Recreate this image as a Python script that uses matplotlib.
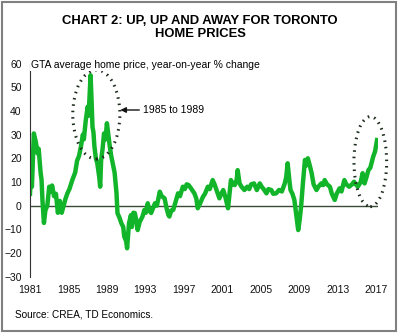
"""GTA home price growth chart."""
import matplotlib
matplotlib.use("Agg")
import matplotlib.pyplot as plt
from matplotlib.patches import Ellipse, Rectangle

# year-on-year % change in GTA average home price
years = [
    1981.0, 1981.1, 1981.2, 1981.4, 1981.6, 1981.8, 1981.9, 1982.1, 1982.2, 1982.3,
    1982.45, 1982.6, 1982.8, 1983.0, 1983.15, 1983.3, 1983.5, 1983.7, 1983.9, 1984.1,
    1984.3, 1984.5, 1984.7, 1984.9, 1985.1, 1985.4, 1985.7, 1985.9, 1986.1, 1986.3,
    1986.5, 1986.6, 1986.8, 1987.0, 1987.1, 1987.3, 1987.4, 1987.5, 1987.6, 1987.7,
    1987.85, 1988.0, 1988.2, 1988.3, 1988.4, 1988.55, 1988.7, 1988.85, 1989.0, 1989.15,
    1989.3, 1989.45, 1989.6, 1989.8, 1990.0, 1990.1, 1990.3, 1990.5, 1990.7, 1990.8,
    1991.0, 1991.1, 1991.3, 1991.5, 1991.6, 1991.75, 1991.9, 1992.05, 1992.2, 1992.4,
    1992.7, 1992.9, 1993.05, 1993.25, 1993.4, 1993.6, 1993.8, 1994.0, 1994.2, 1994.5,
    1994.7, 1995.0, 1995.2, 1995.4, 1995.5, 1995.7, 1995.9, 1996.1, 1996.4, 1996.6,
    1996.9, 1997.1, 1997.3, 1997.5, 1997.8, 1998.1, 1998.3, 1998.45, 1998.7, 1999.0,
    1999.2, 1999.5, 1999.7, 2000.0, 2000.2, 2000.4, 2000.7, 2000.9, 2001.1, 2001.3,
    2001.6, 2001.9, 2002.1, 2002.3, 2002.5, 2002.6, 2002.8, 2003.0, 2003.3, 2003.6,
    2003.8, 2004.0, 2004.3, 2004.6, 2004.9, 2005.1, 2005.3, 2005.6, 2005.8, 2006.1,
    2006.3, 2006.6, 2006.9, 2007.2, 2007.5, 2007.65, 2007.8, 2008.0, 2008.1, 2008.3,
    2008.5, 2008.7, 2008.9, 2009.05, 2009.2, 2009.4, 2009.6, 2009.75, 2009.9, 2010.1,
    2010.3, 2010.5, 2010.8, 2011.0, 2011.3, 2011.5, 2011.65, 2011.9, 2012.2, 2012.4,
    2012.7, 2012.9, 2013.2, 2013.4, 2013.7, 2013.9, 2014.2, 2014.5, 2014.7, 2014.9,
    2015.1, 2015.4, 2015.6, 2015.8, 2016.0, 2016.2, 2016.4, 2016.7, 2016.9, 2017.1,
]
pct_change = [
    5, 13, 8, 30.5, 27, 22, 24, 14, 11, 2,
    -7.3, -2, 0, 8, 6, 8.5, 4, 5, -3, 2,
    -3, 0, 3, 5.3, 7, 10.8, 14, 19, 21, 25,
    30, 28, 36, 41.8, 38, 55.1, 45, 33.3, 31, 25,
    20, 17.9, 12.2, 8, 19.3, 24, 30.5, 28, 34.8, 30,
    25, 21, 17.9, 14, 5.2, -3.2, -5, -7.4, -9, -13,
    -15, -18, -7.4, -4, -9, -3, -3.1, -6, -10.3, -7,
    -4.6, -1.8, -3, 1, -2, -3.1, -1, 1, 0, 5.9,
    4, 3.1, -1, -4, -4.6, -2, -1.8, 1, 5.2, 4,
    8, 7, 9, 8.7, 7, 5.2, 3, -1.1, 1, 3.8,
    5, 8, 7, 10.8, 9, 6.6, 3.1, 5, 6.6, 4,
    -1.1, 10.8, 9, 8.7, 11, 15, 9.4, 8, 6.6, 8,
    7, 9, 9.4, 6.6, 9.4, 8, 7, 5.2, 7, 6.6,
    5, 5.2, 6.6, 6, 9.4, 12, 17.9, 10, 6.6, 5,
    2.4, -4, -10.3, -6, -0.4, 10, 19.3, 17, 20, 17,
    13.7, 9, 6.6, 8, 9.4, 8.7, 10.8, 9, 8, 5,
    2.4, 5, 7.3, 6, 10.8, 9, 8, 9, 10.1, 9,
    8, 10, 13.7, 9.4, 12, 15, 16, 20.7, 23, 27.7,
]
tick_years = [1981, 1985, 1989, 1993, 1997, 2001, 2005, 2009, 2013, 2017]
tick_values = [-30, -20, -10, 0, 10, 20, 30, 40, 50, 60]

plt.rcParams["font.family"] = ["Liberation Sans", "DejaVu Sans"]

fig = plt.figure(figsize=(4.0, 3.34), dpi=100)
ax = fig.add_axes([0.075, 0.1716, 0.87, 0.638])

ax.axhline(0, color="#3b4a36", lw=1.0, zorder=1)
ax.plot(years, pct_change, color="#12b52a", lw=3.2, solid_joinstyle="round", zorder=2)

# dotted circles around the two booms
dots = dict(fill=False, edgecolor="#1c2a1c", lw=2.2, linestyle=(0, (0.5, 1.6)),
            zorder=3, clip_on=False)
ax.add_patch(Ellipse((1987.9, 38.5), 4.9, 37.6, **dots))
ax.add_patch(Ellipse((2016.4, 18.6), 3.4, 38.0, **dots))
ax.annotate("1985 to 1989", xy=(1990.4, 40.4), xytext=(1992.8, 40.4),
            fontsize=7.5, va="center", ha="left",
            arrowprops=dict(arrowstyle="-|>", color="#111111", lw=1.0,
                            mutation_scale=8, shrinkA=1, shrinkB=0))

ax.set_xlim(1981, 2017.2)
ax.set_ylim(-30, 60)
ax.set_xticks(tick_years)
ax.set_yticks(tick_values)
ax.tick_params(axis="both", length=0, labelsize=7.5, colors="#111111")
ax.tick_params(axis="y", pad=6)
ax.tick_params(axis="x", pad=6)
for side in ("top", "right", "bottom"):
    ax.spines[side].set_visible(False)
ax.spines["left"].set_color("#333333")
ax.spines["left"].set_linewidth(0.8)

fig.text(0.5, 0.918, "CHART 2: UP, UP AND AWAY FOR TORONTO\nHOME PRICES",
         ha="center", va="center", fontsize=9.4, fontweight="bold", linespacing=1.12)
fig.text(0.0775, 0.805, "GTA average home price, year-on-year % change",
         ha="left", va="center", fontsize=7.5,
         bbox=dict(facecolor="white", edgecolor="none", pad=1))
fig.text(0.0375, 0.057, "Source: CREA, TD Economics.", ha="left", va="center", fontsize=7.2)

fig.patches.append(Rectangle((0.004, 0.01), 0.985, 0.984, transform=fig.transFigure,
                             fill=False, edgecolor="#808080", lw=1.5))

fig.savefig("out.png", dpi=100)
plt.close(fig)
